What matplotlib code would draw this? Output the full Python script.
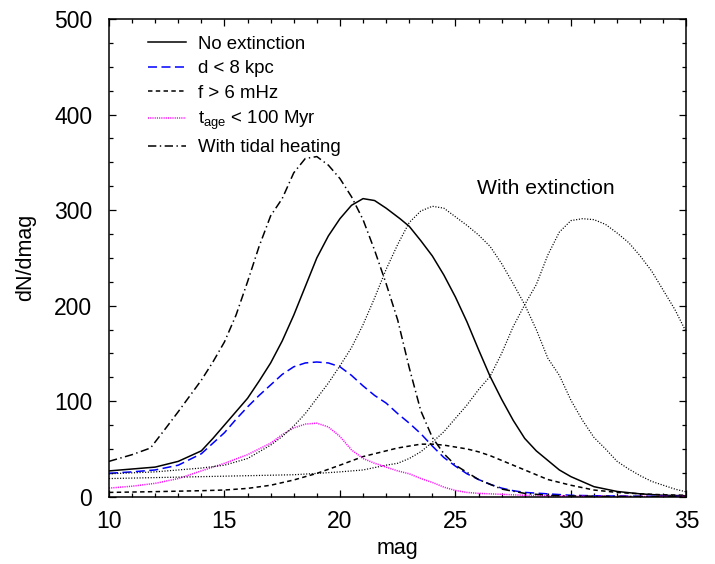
import matplotlib
matplotlib.use("Agg")
import matplotlib.pyplot as plt
from matplotlib.ticker import MultipleLocator

plt.rcParams['font.family'] = ['Liberation Sans', 'DejaVu Sans']
plt.rcParams['mathtext.fontset'] = 'custom'
plt.rcParams['mathtext.rm'] = 'Liberation Sans'
plt.rcParams['mathtext.it'] = 'Liberation Sans:italic'
plt.rcParams['lines.scale_dashes'] = False

# --- data ---
mag_noext = [10, 11, 12, 13, 14, 14.5, 15, 15.5, 16, 16.5, 17, 17.5, 18, 18.5, 19, 19.5, 20, 20.5, 21, 21.5,
             22, 22.6, 23, 23.5, 24, 24.5, 25, 25.5, 26, 26.5, 27, 27.5, 28, 28.5, 29, 29.5, 30, 31, 32,
             33, 34, 35]
val_noext = [27, 29, 31, 37, 48, 61, 75, 89, 103, 121, 140, 163, 190, 220, 250, 273, 291, 305, 312, 310,
             302, 291, 283, 268, 252, 232, 209, 183, 154, 126, 102, 80, 61, 48, 38, 28, 21, 10.5, 5.5,
             3, 1.5, 1]

mag_d8 = [10, 11, 12, 13, 14, 15, 15.5, 16, 16.5, 17, 17.5, 18, 18.5, 19, 19.5, 20, 20.5, 21, 21.5, 22,
          22.5, 23, 23.5, 24, 24.5, 25, 25.5, 26, 26.5, 27, 27.5, 28, 29, 30, 31, 33, 35]
val_d8 = [24.5, 26, 28, 33, 45, 67, 81, 94, 106, 117, 128, 136, 140, 141, 140, 136, 127, 116, 106, 98,
          87, 77, 66, 53, 41, 32, 24, 18, 13, 9, 6.3, 4.5, 3, 1.5, 1, 0.5, 0.3]

mag_f6 = [10, 12, 14, 15, 16, 17, 18, 18.5, 19, 20, 21, 22, 22.5, 23, 23.5, 24, 24.5, 25, 25.5, 26,
          26.5, 27, 27.5, 28, 28.5, 29, 30, 31, 32, 33, 34, 35]
val_f6 = [4.5, 5.3, 6.3, 7, 8.7, 12, 17.5, 21, 24.4, 33, 42, 48, 51, 53, 55, 55, 54, 52, 50, 47,
          43, 38, 33, 28, 23, 18, 12, 7, 4.5, 3, 2, 1.5]

mag_age = [10, 11, 12, 13, 14, 15, 16, 17, 17.5, 18, 18.5, 19, 19.5, 20, 20.5, 21, 21.5, 22, 22.5, 23,
           23.5, 24, 24.5, 25, 25.5, 26, 27, 28, 29, 30, 32, 35]
val_age = [9, 11, 14, 19, 27, 35, 44, 56, 65, 72, 76, 77, 73, 63, 49, 40, 35, 31, 27, 24,
           19, 15, 10, 6.5, 4.5, 3.5, 2.5, 1.5, 1, 0.5, 0.3, 0.2]

mag_tidal = [10, 11, 11.8, 12.5, 13, 14, 14.5, 15, 15.5, 16, 16.5, 17, 17.5, 18, 18.5, 19, 19.5, 20, 20.5,
             21, 21.5, 22, 22.5, 23, 23.5, 24, 24.5, 25, 26, 27, 28, 29, 30, 32, 35]
val_tidal = [37, 44, 51, 73, 89, 122, 141, 162, 190, 225, 262, 294, 312, 339, 354, 356, 347, 333, 314,
             290, 258, 223, 185, 135, 90, 62, 45, 33, 18, 8, 3.5, 1.5, 0.8, 0.3, 0]

mag_extA = [10, 12, 14, 15, 16, 17, 17.5, 18, 18.5, 19, 19.5, 20, 20.5, 21, 21.5, 22, 22.5, 23, 23.5, 24,
            24.5, 25, 25.5, 26, 26.5, 27, 27.5, 28, 28.5, 29, 29.5, 30, 30.5, 31, 31.5, 32, 32.5, 33, 33.5, 34,
            34.5, 35]
val_extA = [24, 26, 30, 33, 40, 54, 63, 74, 87, 103, 119, 137, 156, 180, 208, 238, 264, 287, 299, 304,
            302, 293, 284, 274, 262, 244, 223, 201, 175, 145, 127, 101, 80, 62, 50, 37, 29, 22, 16, 12,
            8, 5]

mag_extB = [10, 12, 14, 16, 18, 19, 20, 21, 22, 22.5, 23, 23.5, 24, 24.5, 25, 25.5, 26, 26.5, 27, 27.5,
            28, 28.5, 29, 29.5, 30, 30.5, 31, 31.5, 32, 32.5, 33, 33.5, 34, 34.5, 35]
val_extB = [19, 20, 21, 22, 23, 24.4, 26, 28, 33, 35, 40, 47, 57, 68, 82, 96, 112, 126, 150, 178,
            201, 222, 253, 277, 289, 291, 290, 285, 276, 266, 252, 236, 216, 196, 172]

labels = ['No extinction', 'd < 8 kpc', 'f > 6 mHz', r'$\mathrm{t}_{\mathrm{age}}$ < 100 Myr',
          'With tidal heating']
xticks = [10, 15, 20, 25, 30, 35]
yticks = [0, 100, 200, 300, 400, 500]

fig = plt.figure(figsize=(7.15, 5.64), dpi=100)
ax = fig.add_axes([0.1524, 0.1193, 0.8076, 0.847])

lw = 1.1
ax.plot(mag_noext, val_noext, color='black', lw=lw, ls='-', label=labels[0])
ax.plot(mag_d8, val_d8, color='#0000ff', lw=lw, ls=(0, (6.5, 3.2)), label=labels[1])
ax.plot(mag_f6, val_f6, color='black', lw=lw, ls=(0, (3.2, 2.4)), label=labels[2])
ax.plot(mag_age, val_age, color='#ff00ff', lw=lw, ls=(0, (0.8, 0.8)), label=labels[3])
ax.plot(mag_tidal, val_tidal, color='black', lw=lw, ls=(0, (6.0, 2.5, 1.0, 2.5)), label=labels[4])
ax.plot(mag_extA, val_extA, color='black', lw=0.9, ls=(0, (0.8, 1.2)))
ax.plot(mag_extB, val_extB, color='black', lw=0.9, ls=(0, (0.8, 1.2)))

ax.text(25.95, 323, 'With extinction', fontsize=15.2, ha='left', va='center')

ax.set_xlim(10, 35)
ax.set_ylim(0, 500)
ax.set_xticks(xticks)
ax.set_yticks(yticks)
ax.xaxis.set_minor_locator(MultipleLocator(1))
ax.yaxis.set_minor_locator(MultipleLocator(25))
ax.tick_params(which='both', direction='in', top=True, right=True, width=0.9)
ax.tick_params(which='major', length=5)
ax.tick_params(which='minor', length=3)
ax.tick_params(axis='both', labelsize=16.5)
ax.tick_params(axis='y', pad=12)
ax.tick_params(axis='x', pad=9.5)
for s in ax.spines.values():
    s.set_linewidth(1.1)

ax.set_xlabel('mag', fontsize=15.5, labelpad=4)
ax.set_ylabel('dN/dmag', fontsize=15.5, labelpad=13)

ax.legend(loc='upper left', bbox_to_anchor=(0.067, 0.9645), frameon=False, fontsize=13.4,
          handlelength=2.05, handletextpad=0.65, labelspacing=0.39, borderaxespad=0, borderpad=0)

fig.savefig('out.png', dpi=100)
